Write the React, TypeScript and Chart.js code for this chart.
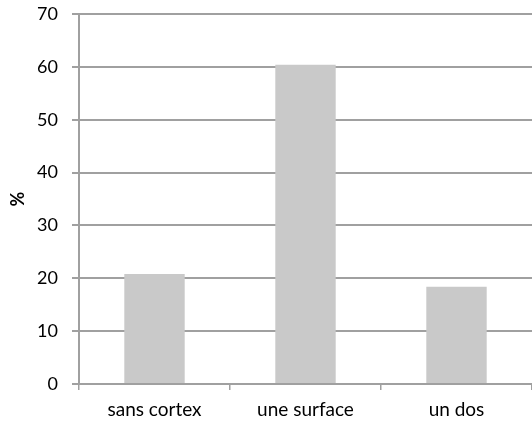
import React, { useEffect, useRef } from "react";
import { Chart, registerables } from "chart.js";

Chart.register(...registerables);

const categories = ["sans cortex", "une surface", "un dos"];
const values = [20.8, 60.4, 18.4];
const yTicks = [0, 10, 20, 30, 40, 50, 60, 70];
const yTitle = "%";

const FONT = "Lato, 'Open Sans', sans-serif";
const GRID = "#a0a0a0";

export default function App() {
  const ref = useRef<HTMLCanvasElement | null>(null);
  useEffect(() => {
    document.body.style.margin = "0";
    const ctx = ref.current!;
    const chart = new Chart(ctx, {
      type: "bar",
      data: {
        labels: categories,
        datasets: [
          {
            data: values,
            backgroundColor: "#c9c9c9",
            borderWidth: 0,
            barPercentage: 0.4,
            categoryPercentage: 1,
          },
        ],
      },
      options: {
        responsive: false,
        animation: false,
        maintainAspectRatio: false,
        layout: { padding: { top: 14, right: 0, left: 0, bottom: 0 } },
        plugins: { legend: { display: false }, tooltip: { enabled: false } },
        scales: {
          x: {
            grid: {
              drawOnChartArea: false,
              drawTicks: true,
              tickLength: 6,
              color: GRID,
              lineWidth: 1.5,
              offset: true,
            },
            border: { display: true, color: GRID, width: 2 },
            ticks: {
              color: "#000",
              font: { family: FONT, size: 19 },
              padding: 8,
              maxRotation: 0,
            },
            afterFit: (s: any) => {
              s.height = 44;
              s.paddingLeft = 0;
              s.paddingRight = 0;
            },
          },
          y: {
            min: 0,
            max: 70,
            afterBuildTicks: (s: any) => {
              s.ticks = yTicks.map((v) => ({ value: v }));
            },
            grid: {
              color: GRID,
              lineWidth: 2,
              drawTicks: true,
              tickLength: 7,
            },
            border: { display: true, color: GRID, width: 2 },
            ticks: {
              color: "#000",
              font: { family: FONT, size: 18 },
              padding: 14,
            },
            title: {
              display: true,
              text: yTitle,
              color: "#000",
              font: { family: FONT, size: 18, weight: "bold" },
              padding: { top: 7, bottom: 6 },
            },
            afterFit: (s: any) => {
              s.width = 79;
              s.paddingTop = 0;
              s.paddingBottom = 0;
            },
          },
        },
      },
    });
    return () => chart.destroy();
  }, []);
  return (
    <div style={{ position: "fixed", left: 0, top: 0, width: 532, height: 428 }}>
      <canvas ref={ref} width={532} height={428} style={{ width: 532, height: 428 }} />
    </div>
  );
}
